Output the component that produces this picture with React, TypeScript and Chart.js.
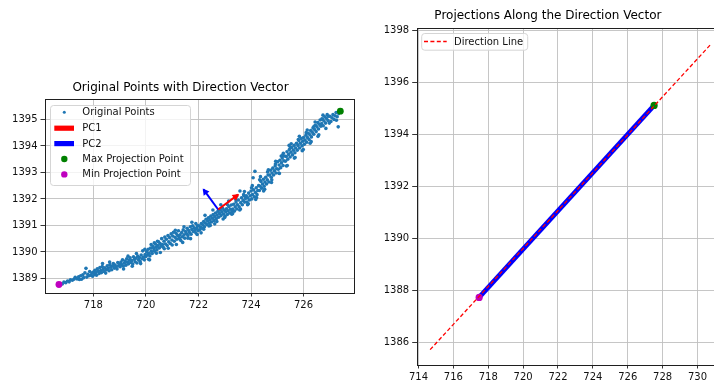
import React, { useEffect, useRef } from "react";
import { Chart, registerables } from "chart.js";

Chart.register(...registerables);

const FONT = "'DejaVu Sans', sans-serif";

// ---------- Left chart data ----------
const leftTitle = "Original Points with Direction Vector";
const leftXTicks = [718, 720, 722, 724, 726];
const leftYTicks = [1389, 1390, 1391, 1392, 1393, 1394, 1395];
const leftLegendLabels = ["Original Points", "PC1", "PC2", "Max Projection Point", "Min Projection Point"];

const originalPoints: [number, number][] = [
  [716.75,1388.80],[716.82,1388.79],[716.88,1388.86],[716.95,1388.84],[717.02,1388.90],[717.08,1388.87],[717.13,1388.95],[717.20,1388.93],[717.26,1388.97],[717.31,1389.04],[717.38,1388.98],[717.44,1389.06],[717.47,1388.96],
  [717.52,1389.10],[717.55,1388.97],[717.60,1389.14],[717.63,1389.03],[717.68,1389.21],[717.72,1389.38],[717.75,1389.05],[717.79,1389.16],[717.83,1389.10],[717.86,1389.26],[717.90,1389.12],[717.94,1389.20],[717.97,1389.08],[718.00,1389.24],
  [718.03,1389.15],[718.06,1389.31],[718.09,1389.22],[718.12,1389.12],[718.15,1389.36],[718.18,1389.27],[718.22,1389.19],[718.25,1389.41],[718.28,1389.30],[718.31,1389.22],[718.34,1389.45],[718.35,1389.56],[718.37,1389.34],[718.41,1389.26],[718.44,1389.40],[718.47,1389.20],[718.50,1389.33],[718.53,1389.48],[718.56,1389.38],[718.60,1389.29],[718.62,1389.62],[718.63,1389.52],[718.66,1389.42],[718.70,1389.33],[718.73,1389.47],[718.76,1389.56],[718.80,1389.39],[718.83,1389.50],[718.86,1389.43],[718.90,1389.36],[718.93,1389.60],[718.96,1389.48],[718.99,1389.54],
  [719.02,1389.44],[719.05,1389.62],[719.08,1389.52],[719.11,1389.70],[719.14,1389.47],[719.15,1389.36],[719.18,1389.58],[719.21,1389.66],[719.24,1389.50],[719.27,1389.74],[719.30,1389.61],[719.32,1389.84],[719.34,1389.55],[719.37,1389.69],[719.40,1389.78],[719.43,1389.60],[719.46,1389.67],[719.48,1389.46],[719.50,1389.54],[719.53,1389.82],[719.56,1389.72],[719.59,1389.63],[719.62,1389.76],[719.64,1389.94],[719.66,1389.58],[719.69,1389.84],[719.72,1389.70],[719.75,1389.79],[719.78,1389.64],[719.80,1389.56],[719.82,1389.88],[719.85,1389.74],[719.88,1390.04],[719.91,1389.81],[719.94,1389.70],[719.96,1390.10],[719.97,1389.90],
  [720.00,1389.83],[720.03,1390.01],[720.06,1389.89],[720.09,1390.10],[720.10,1389.72],[720.12,1389.95],[720.14,1389.70],[720.15,1389.85],[720.18,1390.15],[720.20,1390.28],[720.21,1390.03],[720.24,1389.94],[720.27,1390.20],
  [720.30,1390.13],[720.32,1390.34],[720.33,1390.03],[720.36,1390.30],[720.39,1390.18],[720.40,1389.95],[720.42,1390.08],[720.44,1390.40],[720.45,1390.24],[720.48,1390.38],[720.51,1390.15],[720.54,1390.32],[720.55,1389.98],[720.57,1390.22],[720.60,1390.50],[720.63,1390.28],[720.66,1390.18],[720.69,1390.40],[720.70,1390.12],[720.72,1390.56],[720.75,1390.30],[720.78,1390.48],[720.81,1390.24],[720.84,1390.62],[720.85,1390.14],[720.87,1390.38],[720.90,1390.54],[720.93,1390.32],[720.96,1390.68],[720.99,1390.45],[721.00,1390.26],[721.02,1390.60],[721.05,1390.74],[721.08,1390.40],[721.11,1390.55],[721.12,1390.82],[721.15,1390.70],[721.16,1390.28],[721.18,1390.48],[721.21,1390.62],[721.24,1390.80],[721.27,1390.54],
  [721.30,1390.65],[721.30,1390.48],[721.33,1390.43],[721.36,1390.73],[721.39,1390.57],[721.40,1390.36],[721.42,1390.83],[721.45,1390.65],[721.45,1390.95],[721.48,1390.52],[721.51,1390.77],[721.54,1390.69],[721.57,1390.89],[721.60,1390.62],[721.60,1390.52],[721.63,1390.81],[721.66,1390.73],[721.69,1390.95],[721.70,1390.50],[721.72,1390.67],[721.75,1390.85],[721.75,1391.12],[721.78,1390.99],[721.81,1390.77],[721.84,1390.91],[721.87,1390.83],[721.90,1391.07],[721.90,1390.72],[721.93,1390.89],[721.95,1390.66],[721.96,1390.99],[721.99,1390.81],
  [722.02,1390.99],[722.05,1390.83],[722.08,1390.93],[722.10,1390.72],[722.11,1391.07],[722.14,1390.89],[722.17,1391.02],[722.20,1391.15],[722.20,1390.86],[722.23,1390.95],[722.25,1391.38],[722.26,1391.09],[722.29,1391.23],[722.32,1391.03],[722.35,1391.17],[722.38,1391.29],[722.40,1390.98],[722.41,1391.09],[722.44,1391.21],[722.45,1391.00],[722.47,1391.35],[722.50,1391.13],[722.53,1391.27],[722.55,1391.58],[722.56,1391.41],[722.59,1391.19],[722.62,1391.33],[722.62,1391.06],[722.65,1391.47],[722.68,1391.25],[722.70,1391.15],[722.71,1391.39],[722.74,1391.53],[722.77,1391.31],[722.78,1391.58],[722.80,1391.45],[722.83,1391.59],[722.85,1391.78],[722.86,1391.37],[722.89,1391.51],[722.92,1391.65],[722.94,1391.24],[722.95,1391.43],[722.98,1391.57],
  [723.00,1391.30],[723.01,1391.35],[723.04,1391.51],[723.07,1391.63],[723.10,1391.41],[723.11,1391.78],[723.13,1391.55],[723.15,1391.92],[723.16,1391.71],[723.19,1391.47],[723.22,1391.61],[723.25,1391.77],[723.27,1391.42],[723.28,1391.53],[723.30,1391.45],[723.31,1391.62],[723.34,1391.80],[723.37,1391.54],[723.40,1391.70],[723.42,1391.98],[723.43,1391.88],[723.45,1392.10],[723.46,1391.62],[723.49,1391.78],[723.52,1391.96],[723.55,1391.70],[723.57,1391.58],[723.58,1392.30],[723.60,1391.62],[723.61,1391.86],[723.64,1392.04],[723.67,1391.78],[723.70,1391.94],[723.72,1392.16],[723.73,1392.12],[723.75,1392.28],[723.76,1391.88],[723.79,1392.02],[723.82,1392.12],[723.85,1391.88],[723.87,1391.78],[723.88,1392.04],[723.90,1391.82],[723.91,1392.22],[723.94,1391.96],[723.97,1392.12],
  [724.00,1392.30],[724.02,1392.42],[724.03,1392.00],[724.05,1392.50],[724.06,1392.16],[724.08,1392.80],[724.10,1392.34],[724.13,1392.08],[724.15,1393.04],[724.17,1392.24],[724.18,1391.98],[724.20,1392.42],[724.21,1392.05],[724.23,1392.16],[724.26,1392.32],[724.29,1392.50],[724.32,1392.32],[724.33,1392.72],[724.35,1392.48],[724.36,1392.84],[724.38,1392.66],[724.41,1392.40],[724.44,1392.56],[724.47,1392.74],[724.48,1392.30],[724.50,1392.48],[724.52,1392.36],[724.53,1392.64],[724.56,1392.82],[724.59,1392.56],[724.62,1392.72],[724.63,1393.02],[724.65,1392.90],[724.66,1393.10],[724.68,1392.64],[724.71,1392.90],[724.74,1393.08],[724.77,1392.82],[724.78,1392.62],[724.79,1392.72],[724.80,1392.98],[724.83,1393.16],[724.86,1392.90],[724.89,1393.06],[724.92,1393.24],[724.93,1393.32],[724.94,1393.42],[724.95,1392.98],[724.98,1393.14],
  [725.01,1393.40],[725.04,1393.12],[725.06,1392.98],[725.07,1393.28],[725.08,1392.96],[725.10,1393.46],[725.13,1393.18],[725.15,1393.62],[725.16,1393.36],[725.19,1393.54],[725.20,1393.64],[725.22,1393.26],[725.23,1393.72],[725.25,1393.44],[725.28,1393.62],[725.31,1393.42],[725.34,1393.60],[725.35,1393.24],[725.37,1393.78],[725.38,1393.26],[725.40,1393.50],[725.43,1393.68],[725.45,1394.02],[725.46,1393.86],[725.49,1393.58],[725.50,1393.94],[725.52,1393.76],[725.53,1394.08],[725.55,1393.94],[725.58,1393.66],[725.61,1393.84],[725.64,1394.02],[725.65,1393.54],[725.67,1393.74],[725.68,1393.56],[725.70,1393.92],[725.73,1394.10],[725.76,1393.84],[725.79,1394.02],[725.80,1394.24],[725.82,1394.20],[725.84,1394.36],[725.85,1393.92],[725.88,1394.10],[725.91,1394.28],[725.94,1394.00],[725.95,1393.82],[725.97,1394.18],[725.99,1393.86],
  [726.00,1394.32],[726.03,1394.06],[726.06,1394.22],[726.09,1394.40],[726.10,1394.50],[726.12,1394.14],[726.14,1394.60],[726.15,1394.32],[726.18,1394.48],[726.21,1394.24],[726.24,1394.42],[726.25,1394.10],[726.27,1394.58],[726.29,1394.16],[726.30,1394.34],[726.33,1394.52],[726.36,1394.68],[726.39,1394.44],[726.40,1394.74],[726.42,1394.62],[726.44,1394.90],[726.45,1394.78],[726.48,1394.54],[726.51,1394.72],[726.54,1394.88],[726.55,1394.36],[726.57,1394.64],[726.58,1394.42],[726.60,1394.82],[726.63,1394.98],[726.66,1394.74],[726.69,1394.84],[726.70,1395.02],[726.72,1395.00],[726.74,1395.16],[726.75,1394.76],[726.78,1394.94],[726.81,1395.10],[726.84,1394.86],[726.85,1394.66],[726.87,1395.04],[726.90,1395.18],[726.93,1394.96],[726.96,1395.12],[726.98,1394.86],
  [727.00,1395.12],[727.04,1394.92],[727.08,1395.06],[727.12,1395.18],[727.16,1395.00],[727.20,1395.14],[727.24,1395.26],[727.25,1394.97],[727.28,1395.10],[727.32,1394.72],[727.34,1395.22],[727.38,1395.30],
];

const maxProjectionPoint: [number, number] = [727.4, 1395.31];
const minProjectionPoint: [number, number] = [716.69, 1388.77];
const arrowOrigin: [number, number] = [722.75, 1391.6];
const pc1Vector: [number, number] = [0.76, 0.56];
const pc2Vector: [number, number] = [-0.56, 0.76];

// ---------- Right chart data ----------
const rightTitle = "Projections Along the Direction Vector";
const rightXTicks = [714, 716, 718, 720, 722, 724, 726, 728, 730];
const rightYTicks = [1386, 1388, 1390, 1392, 1394, 1396, 1398];
const rightLegendLabels = ["Direction Line"];
const directionLine: [number, number][] = [[714.67, 1385.73], [730.81, 1397.52]];
const projectedSpan: [number, number][] = [[717.48, 1387.74], [727.51, 1395.13]];
const maxProjected: [number, number] = [727.51, 1395.13];
const minProjected: [number, number] = [717.48, 1387.74];

// ---------- helpers ----------
const toXY = (p: [number, number]) => ({ x: p[0], y: p[1] });

const GRID = "#bfbfbf";
const SPINE = "#1f1f1f";
const TICK_FONT = 10;
const TITLE_FONT = 12;
const LEGEND_FONT = 10;

function axis(min: number, max: number, ticks: number[], size: number, isY: boolean) {
  return {
    type: "linear",
    min,
    max,
    afterBuildTicks: (s: any) => {
      s.ticks = ticks.map((v) => ({ value: v }));
    },
    afterFit: (s: any) => {
      if (isY) s.width = size;
      else s.height = size;
    },
    ticks: {
      callback: (v: any) => String(v),
      font: { family: FONT, size: TICK_FONT },
      color: "#111",
      padding: isY ? 3 : 2.5,
      maxRotation: 0,
      autoSkip: false,
    },
    grid: {
      color: GRID,
      lineWidth: 0.9,
      tickColor: SPINE,
      tickLength: isY ? 4.5 : 3.5,
      tickWidth: 0.9,
    },
    border: { display: false },
  };
}

function roundRectPath(ctx: CanvasRenderingContext2D, x: number, y: number, w: number, h: number, r: number) {
  ctx.beginPath();
  ctx.moveTo(x + r, y);
  ctx.lineTo(x + w - r, y);
  ctx.arcTo(x + w, y, x + w, y + r, r);
  ctx.lineTo(x + w, y + h - r);
  ctx.arcTo(x + w, y + h, x + w - r, y + h, r);
  ctx.lineTo(x + r, y + h);
  ctx.arcTo(x, y + h, x, y + h - r, r);
  ctx.lineTo(x, y + r);
  ctx.arcTo(x, y, x + r, y, r);
  ctx.closePath();
}

const framePlugin = {
  id: "mplFrame",
  afterDatasetsDraw(chart: any) {
    const { ctx, chartArea: a } = chart;
    ctx.save();
    ctx.strokeStyle = SPINE;
    ctx.lineWidth = 1;
    ctx.strokeRect(Math.round(a.left) + 0.5, Math.round(a.top) + 0.5, Math.round(a.right - a.left), Math.round(a.bottom - a.top));
    ctx.restore();
  },
};

const arrowHeadPlugin = {
  id: "arrowHeads",
  afterDatasetsDraw(chart: any) {
    const ctx = chart.ctx;
    chart.data.datasets.forEach((ds: any, i: number) => {
      if (!ds.arrowColor) return;
      const pts = chart.getDatasetMeta(i).data;
      if (!pts || pts.length < 2) return;
      const a = pts[0];
      const b = pts[1];
      const ang = Math.atan2(b.y - a.y, b.x - a.x);
      const c = Math.cos(ang);
      const s = Math.sin(ang);
      const tipX = b.x + c * 1.2;
      const tipY = b.y + s * 1.2;
      const L = 6.5;
      const W = 3.6;
      const bx = tipX - c * L;
      const by = tipY - s * L;
      ctx.save();
      ctx.fillStyle = ds.arrowColor;
      ctx.beginPath();
      ctx.moveTo(tipX, tipY);
      ctx.lineTo(bx - s * W, by + c * W);
      ctx.lineTo(bx + s * W, by - c * W);
      ctx.closePath();
      ctx.fill();
      ctx.restore();
    });
  },
};

const leftLegendPlugin = {
  id: "leftLegend",
  afterDraw(chart: any) {
    const ctx: CanvasRenderingContext2D = chart.ctx;
    ctx.save();
    roundRectPath(ctx, 50.5, 105.5, 140, 80, 3);
    ctx.fillStyle = "rgba(255,255,255,0.8)";
    ctx.fill();
    ctx.strokeStyle = "#d5d5d5";
    ctx.lineWidth = 1;
    ctx.stroke();
    const rows = [112.3, 128.2, 143.6, 159.0, 174.4];
    ctx.fillStyle = "#1f77b4";
    ctx.beginPath();
    ctx.arc(64.3, rows[0], 1.5, 0, Math.PI * 2);
    ctx.fill();
    ctx.fillStyle = "#ff0000";
    ctx.fillRect(54.3, rows[1] - 2.6, 19.7, 5.2);
    ctx.fillStyle = "#0000ff";
    ctx.fillRect(54.3, rows[2] - 2.6, 19.7, 5.2);
    ctx.fillStyle = "#008000";
    ctx.beginPath();
    ctx.arc(64.3, rows[3], 3.2, 0, Math.PI * 2);
    ctx.fill();
    ctx.fillStyle = "#bf00bf";
    ctx.beginPath();
    ctx.arc(64.3, rows[4], 3.2, 0, Math.PI * 2);
    ctx.fill();
    ctx.fillStyle = "#111";
    ctx.font = `${LEGEND_FONT}px ${FONT}`;
    ctx.textBaseline = "middle";
    ctx.textAlign = "left";
    leftLegendLabels.forEach((t, i) => ctx.fillText(t, 82.3, rows[i] + 0.5));
    ctx.restore();
  },
};

const rightLegendPlugin = {
  id: "rightLegend",
  afterDraw(chart: any) {
    const ctx: CanvasRenderingContext2D = chart.ctx;
    ctx.save();
    roundRectPath(ctx, 61.7, 33.5, 106, 16.7, 3);
    ctx.fillStyle = "rgba(255,255,255,0.8)";
    ctx.fill();
    ctx.strokeStyle = "#d5d5d5";
    ctx.lineWidth = 1;
    ctx.stroke();
    ctx.strokeStyle = "#ff0000";
    ctx.lineWidth = 1.3;
    ctx.setLineDash([4, 2.4]);
    ctx.beginPath();
    ctx.moveTo(64, 41.5);
    ctx.lineTo(86.7, 41.5);
    ctx.stroke();
    ctx.setLineDash([]);
    ctx.fillStyle = "#111";
    ctx.font = `${LEGEND_FONT}px ${FONT}`;
    ctx.textBaseline = "middle";
    ctx.textAlign = "left";
    ctx.fillText(rightLegendLabels[0], 94, 42);
    ctx.restore();
  },
};

export default function App() {
  const leftRef = useRef<HTMLCanvasElement | null>(null);
  const rightRef = useRef<HTMLCanvasElement | null>(null);

  useEffect(() => {
    const leftChart = new Chart(leftRef.current as HTMLCanvasElement, {
      type: "scatter",
      data: {
        datasets: [
          {
            label: leftLegendLabels[0],
            data: originalPoints.map(toXY),
            backgroundColor: "#1f77b4",
            borderWidth: 0,
            pointRadius: 1.8,
            order: 5,
          },
          {
            label: leftLegendLabels[1],
            data: [toXY(arrowOrigin), { x: arrowOrigin[0] + pc1Vector[0], y: arrowOrigin[1] + pc1Vector[1] }],
            showLine: true,
            borderColor: "#ff0000",
            borderWidth: 2,
            pointRadius: 0,
            arrowColor: "#ff0000",
            order: 3,
          } as any,
          {
            label: leftLegendLabels[2],
            data: [toXY(arrowOrigin), { x: arrowOrigin[0] + pc2Vector[0], y: arrowOrigin[1] + pc2Vector[1] }],
            showLine: true,
            borderColor: "#0000ff",
            borderWidth: 2,
            pointRadius: 0,
            arrowColor: "#0000ff",
            order: 3,
          } as any,
          {
            label: leftLegendLabels[3],
            data: [toXY(maxProjectionPoint)],
            backgroundColor: "#008000",
            borderWidth: 0,
            pointRadius: 3.4,
            order: 1,
          },
          {
            label: leftLegendLabels[4],
            data: [toXY(minProjectionPoint)],
            backgroundColor: "#bf00bf",
            borderWidth: 0,
            pointRadius: 3.4,
            order: 1,
          },
        ],
      },
      options: {
        responsive: false,
        animation: false,
        events: [],
        layout: { padding: { left: 7, right: 6, top: 0, bottom: 70 } },
        plugins: {
          legend: { display: false },
          tooltip: { enabled: false },
          title: {
            display: true,
            text: leftTitle,
            color: "#000",
            font: { family: FONT, size: TITLE_FONT, weight: "normal" },
            padding: { top: 81.1, bottom: 3.5 },
          },
        },
        scales: {
          x: axis(716.16, 727.92, leftXTicks, 20, false) as any,
          y: axis(1388.45, 1395.77, leftYTicks, 38, true) as any,
        },
      },
      plugins: [arrowHeadPlugin, framePlugin, leftLegendPlugin],
    } as any);

    const rightChart = new Chart(rightRef.current as HTMLCanvasElement, {
      type: "scatter",
      data: {
        datasets: [
          {
            label: "Projected Points",
            data: projectedSpan.map(toXY),
            showLine: true,
            borderColor: "#0000ff",
            borderWidth: 4.8,
            pointRadius: 0,
            order: 4,
          },
          {
            label: "Max Projection Point",
            data: [toXY(maxProjected)],
            backgroundColor: "#008000",
            borderWidth: 0,
            pointRadius: 3.6,
            order: 2,
          },
          {
            label: "Min Projection Point",
            data: [toXY(minProjected)],
            backgroundColor: "#bf00bf",
            borderWidth: 0,
            pointRadius: 3.6,
            order: 2,
          },
          {
            label: rightLegendLabels[0],
            data: directionLine.map(toXY),
            showLine: true,
            borderColor: "#ff0000",
            borderWidth: 1.3,
            borderDash: [4, 2.4],
            pointRadius: 0,
            order: 1,
          },
        ],
      },
      options: {
        responsive: false,
        animation: false,
        events: [],
        layout: { padding: { left: 10, right: 6.2, top: 0, bottom: 0 } },
        plugins: {
          legend: { display: false },
          tooltip: { enabled: false },
          title: {
            display: true,
            text: rightTitle,
            color: "#000",
            font: { family: FONT, size: TITLE_FONT, weight: "normal" },
            padding: { top: 8.8, bottom: 5.1 },
          },
        },
        scales: {
          x: axis(713.9, 731.62, rightXTicks, 18, false) as any,
          y: axis(1385.14, 1398.1, rightYTicks, 46.7, true) as any,
        },
      },
      plugins: [framePlugin, rightLegendPlugin],
    } as any);

    return () => {
      leftChart.destroy();
      rightChart.destroy();
    };
  }, []);

  return (
    <div
      style={{
        position: "fixed",
        left: 0,
        top: 0,
        width: 714,
        height: 383,
        overflow: "hidden",
        background: "#fff",
      }}
    >
      <canvas
        ref={leftRef}
        width={360}
        height={383}
        style={{ position: "absolute", left: 0, top: 0, width: 360, height: 383 }}
      />
      <canvas
        ref={rightRef}
        width={372}
        height={383}
        style={{ position: "absolute", left: 360, top: 0, width: 372, height: 383 }}
      />
    </div>
  );
}
